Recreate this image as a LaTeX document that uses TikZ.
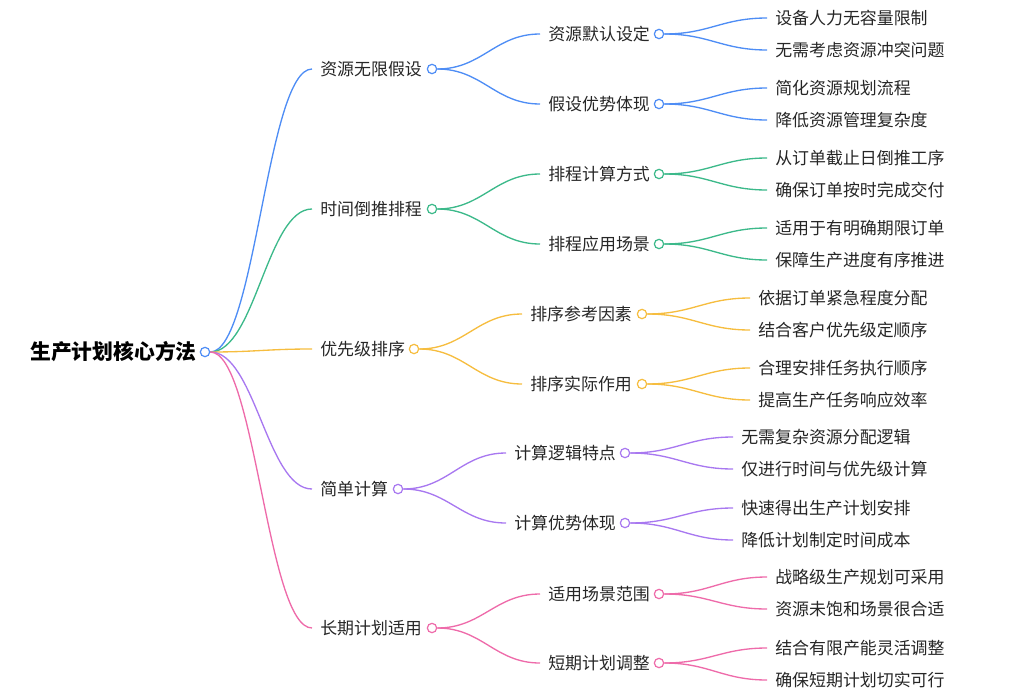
\documentclass[tikz,border=0pt]{standalone}
\usepackage{fontspec}
\setmainfont{Noto Sans CJK SC}
\definecolor{cb}{HTML}{4E8DF5}
\definecolor{cg}{HTML}{3CB98A}
\definecolor{co}{HTML}{F6BD3F}
\definecolor{cp}{HTML}{A878F0}
\definecolor{ck}{HTML}{EE6BAA}
\tikzset{
 lbl/.style={anchor=west,inner sep=0pt,font=\fontsize{12.7pt}{15pt}\selectfont,text=black!85},
 dot/.style={circle,draw=#1,fill=white,line width=0.9pt,inner sep=0pt,minimum size=7pt},
 edge/.style={draw=#1,line width=1pt}
}
% name, text x, y, text, color, circle x
\newcommand\lvl[6]{%
 \coordinate (#1-in) at (#2-8,#3);
 \node[lbl] (#1-t) at (#2,#3) {#4};
 \node[dot=#5] (#1) at (#6,#3) {};}
\newcommand\leaf[4]{%
 \coordinate (#1-in) at (#2-8,#3);
 \node[lbl] (#1-t) at (#2,#3) {#4};}
\newcommand\con[3]{\draw[edge=#3] (#1.east) .. controls +(45,0) and +(-45,0) .. (#2-in);}
\begin{document}
\begin{tikzpicture}[x=0.75pt,y=-0.75pt]
\useasboundingbox (0,0) rectangle (1024,696);
\node[anchor=east,inner sep=0pt,font=\fontsize{15.6pt}{18pt}\selectfont\bfseries] (root-t) at (197,352) {生产计划核心方法};
\node[dot=cb] (r) at (205,352) {};
% level 1
\lvl{a}{320}{69}{资源无限假设}{cb}{432}
\lvl{b}{320}{209}{时间倒推排程}{cg}{432}
\lvl{c}{320}{349}{优先级排序}{co}{414}
\lvl{d}{320}{489}{简单计算}{cp}{398}
\lvl{e}{320}{628}{长期计划适用}{ck}{432}
% level 2
\lvl{a1}{548}{34}{资源默认设定}{cb}{659}
\lvl{a2}{548}{104}{假设优势体现}{cb}{659}
\lvl{b1}{548}{174}{排程计算方式}{cg}{659}
\lvl{b2}{548}{244}{排程应用场景}{cg}{659}
\lvl{c1}{530}{314}{排序参考因素}{co}{642}
\lvl{c2}{530}{384}{排序实际作用}{co}{642}
\lvl{d1}{514}{453}{计算逻辑特点}{cp}{625}
\lvl{d2}{514}{523}{计算优势体现}{cp}{625}
\lvl{e1}{548}{594}{适用场景范围}{ck}{659}
\lvl{e2}{548}{663}{短期计划调整}{ck}{659}
% leaves
\leaf{a11}{775}{18}{设备人力无容量限制}
\leaf{a12}{775}{50}{无需考虑资源冲突问题}
\leaf{a21}{775}{88}{简化资源规划流程}
\leaf{a22}{775}{120}{降低资源管理复杂度}
\leaf{b11}{775}{158}{从订单截止日倒推工序}
\leaf{b12}{775}{190}{确保订单按时完成交付}
\leaf{b21}{775}{228}{适用于有明确期限订单}
\leaf{b22}{775}{260}{保障生产进度有序推进}
\leaf{c11}{758}{298}{依据订单紧急程度分配}
\leaf{c12}{758}{330}{结合客户优先级定顺序}
\leaf{c21}{758}{368}{合理安排任务执行顺序}
\leaf{c22}{758}{400}{提高生产任务响应效率}
\leaf{d11}{741}{437}{无需复杂资源分配逻辑}
\leaf{d12}{741}{469}{仅进行时间与优先级计算}
\leaf{d21}{741}{508}{快速得出生产计划安排}
\leaf{d22}{741}{540}{降低计划制定时间成本}
\leaf{e11}{775}{577}{战略级生产规划可采用}
\leaf{e12}{775}{609}{资源未饱和场景很合适}
\leaf{e21}{775}{648}{结合有限产能灵活调整}
\leaf{e22}{775}{680}{确保短期计划切实可行}
% connectors
\con{r}{a}{cb}\con{r}{b}{cg}\con{r}{c}{co}\con{r}{d}{cp}\con{r}{e}{ck}
\con{a}{a1}{cb}\con{a}{a2}{cb}\con{b}{b1}{cg}\con{b}{b2}{cg}
\con{c}{c1}{co}\con{c}{c2}{co}\con{d}{d1}{cp}\con{d}{d2}{cp}
\con{e}{e1}{ck}\con{e}{e2}{ck}
\con{a1}{a11}{cb}\con{a1}{a12}{cb}\con{a2}{a21}{cb}\con{a2}{a22}{cb}
\con{b1}{b11}{cg}\con{b1}{b12}{cg}\con{b2}{b21}{cg}\con{b2}{b22}{cg}
\con{c1}{c11}{co}\con{c1}{c12}{co}\con{c2}{c21}{co}\con{c2}{c22}{co}
\con{d1}{d11}{cp}\con{d1}{d12}{cp}\con{d2}{d21}{cp}\con{d2}{d22}{cp}
\con{e1}{e11}{ck}\con{e1}{e12}{ck}\con{e2}{e21}{ck}\con{e2}{e22}{ck}
\end{tikzpicture}
\end{document}
